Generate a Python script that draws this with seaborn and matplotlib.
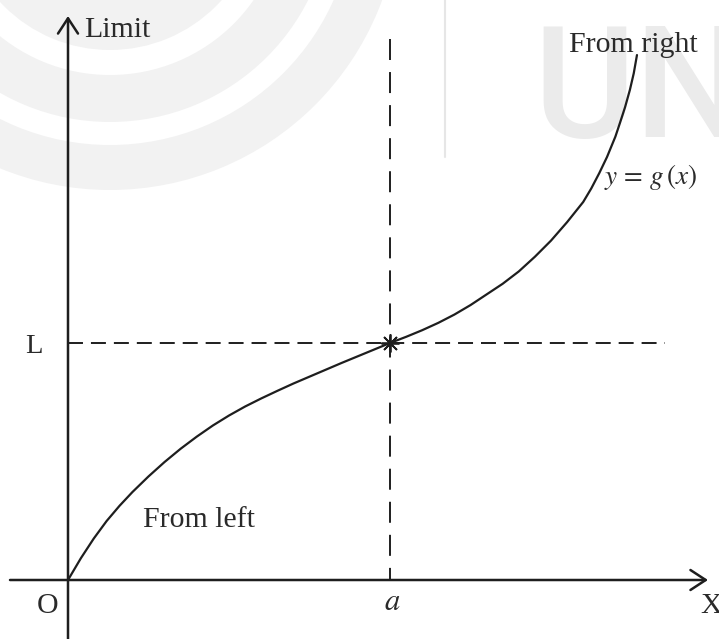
import pandas as pd
import numpy as np
import seaborn as sns
import matplotlib.pyplot as plt
from matplotlib.patches import Wedge

# curve y = g(x) (a = 1, L = 1)
curve_x = [0.0, 0.04, 0.08, 0.12, 0.16, 0.20, 0.25, 0.30, 0.35, 0.40, 0.45,
           0.50, 0.55, 0.60, 0.65, 0.70, 0.75, 0.80, 0.85, 0.90, 0.95, 1.0,
           1.05, 1.10, 1.15, 1.20, 1.25, 1.30, 1.35, 1.40, 1.45, 1.50, 1.55,
           1.60, 1.625, 1.65, 1.674, 1.70, 1.714, 1.73, 1.745, 1.757, 1.767]
curve_y = [0.0, 0.092, 0.175, 0.249, 0.313, 0.371, 0.437, 0.498, 0.554, 0.605, 0.652,
           0.694, 0.732, 0.766, 0.798, 0.829, 0.858, 0.887, 0.916, 0.944, 0.972, 1.0,
           1.026, 1.054, 1.085, 1.120, 1.160, 1.205, 1.250, 1.302, 1.364, 1.432, 1.510,
           1.595, 1.652, 1.717, 1.785, 1.871, 1.928, 1.995, 2.068, 2.138, 2.215]
a_value = 1.0
L_value = 1.0
ring_radii = [(0, 150), (175, 222), (245, 290)]   # watermark rings, px

ink = "#1e1e1e"
txt = "#2a2a2a"

sns.set_theme(style="white")
plt.rcParams["font.family"] = ["Liberation Serif", "DejaVu Serif"]
plt.rcParams["mathtext.fontset"] = "stix"

fig = plt.figure(figsize=(7.19, 6.39), dpi=100)
ax = fig.add_axes([0, 0, 1, 1])

# pixel -> data helpers (origin at px (68, 580), a at px 390, L at px 343)
sx, sy = 322.0, 237.0
def px(x):
    return (x - 68) / sx
def py(y):
    return (580 - y) / sy

ax.set_xlim(px(0), px(719))
ax.set_ylim(py(639), py(0))
ax.axis("off")

# faint watermark, kept behind everything
for r0, r1 in ring_radii:
    w = Wedge((1.10, 7.39), r1 / 100, 0, 360, width=(r1 - r0) / 100 if r0 else None,
              transform=fig.dpi_scale_trans, color="#f2f2f2", lw=0, zorder=0)
    ax.add_patch(w)
ax.text(533 / 719, 1 - 137 / 639, "UNI", transform=fig.transFigure, fontsize=112,
        family="Roboto", fontweight="medium", color="#ebebeb", zorder=0)
ax.plot([px(445), px(445)], [py(0), py(157)], color="#e6e6e6", lw=1.5, zorder=0.5)

# axes with arrows
arrow = dict(arrowstyle="->,head_length=0.55,head_width=0.36", lw=1.8,
             color=ink, shrinkA=0, shrinkB=0, mutation_scale=20)
ax.annotate("", xy=(0, py(16)), xytext=(0, py(639)), arrowprops=arrow, zorder=3)
ax.annotate("", xy=(px(708), 0), xytext=(px(10), 0), arrowprops=arrow, zorder=3)

# dashed guides
ax.plot([a_value, a_value], [py(39), 0], color=ink, lw=1.4, dashes=(10.8, 6.2), zorder=2)
ax.plot([0, px(665)], [L_value, L_value], color=ink, lw=1.4, dashes=(7.7, 4.1), zorder=2)

# the curve
df = pd.DataFrame({"x": curve_x, "y": curve_y})
sns.lineplot(data=df, x="x", y="y", sort=False, estimator=None, color=ink,
             lw=1.6, ax=ax, zorder=3)
ax.plot([a_value], [L_value], marker=(8, 2, 0), ms=13, mew=1.3, color=ink, zorder=4)

# labels
fs = 21.5
ax.text(px(84), py(37), "Limit", fontsize=fs, color=txt, va="baseline", zorder=5)
ax.text(px(569), py(52), "From right", fontsize=fs, color=txt, va="baseline", zorder=5)
ax.text(px(143), py(527), "From left", fontsize=fs, color=txt, va="baseline", zorder=5)
ax.text(px(604), py(184), r"$y\,=\,g\,(x)$", fontsize=19.5, color=txt, va="baseline", zorder=5)
ax.text(px(25), py(353), "L", fontsize=20.5, color=txt, va="baseline", zorder=5)
ax.text(px(37), py(613), "O", fontsize=fs, color=txt, va="baseline", zorder=5)
ax.text(px(384), py(610), r"$a$", fontsize=22, color=txt, va="baseline", zorder=5)
ax.text(px(700), py(613), "X", fontsize=fs, color=txt, va="baseline", zorder=5)

fig.savefig("out.png", dpi=100)
